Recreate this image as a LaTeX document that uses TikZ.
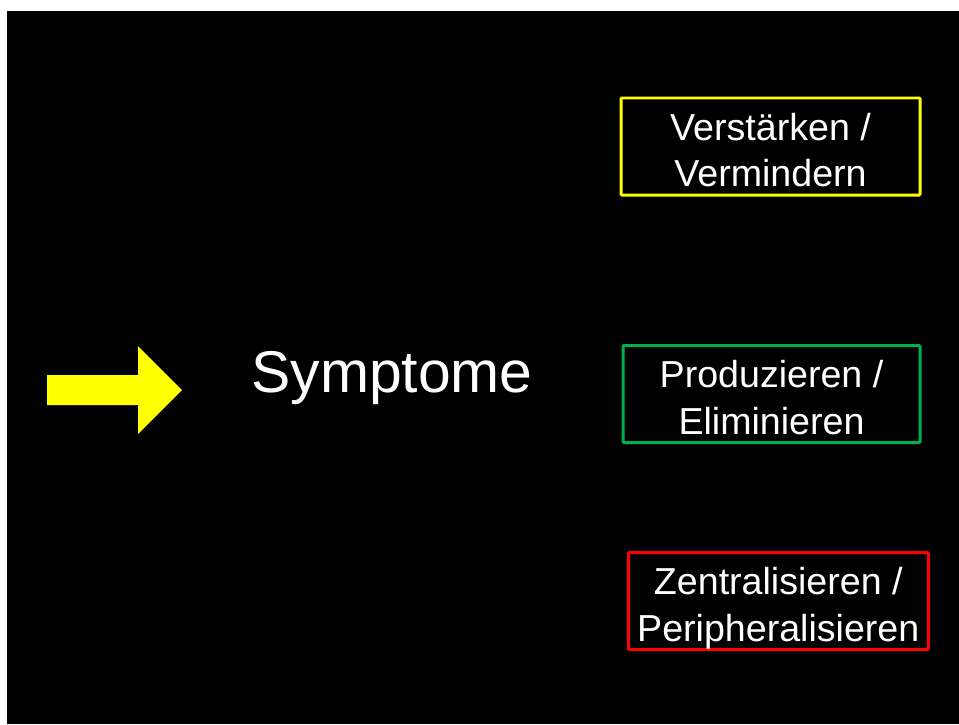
\documentclass[tikz,border=0pt]{standalone}
\usepackage{fontspec}
\setmainfont{Liberation Sans}
\usetikzlibrary{calc,backgrounds}
\newcommand{\boxfont}{\fontsize{21.4}{26.5}\selectfont}
\newcommand{\titlefont}{\fontsize{33.5}{40}\selectfont}
\definecolor{gelb}{RGB}{255,255,0}
\definecolor{gruen}{RGB}{0,176,80}
\definecolor{rot}{RGB}{255,0,0}

\begin{document}
\begin{tikzpicture}[x=0.02cm,y=-0.02cm]

    %
    % Définitions
    %
    \pgfmathsetmacro{\bh}{97};%

    %
    % Styles
    %
    \tikzset{kasten/.style={draw,line width=1.7pt,rounded corners=0.6pt,%
        text=white,align=center,inner sep=0pt,font=\boxfont,%
        text height=45.8pt,text depth=0pt}};%
    \tikzset{pfeil/.style={fill=gelb,draw=none}};%

    %
    % Fond
    %
    \useasboundingbox (0,0) rectangle (959,724);%
    \fill[white] (0,0) rectangle (959,724);%
    \fill[black] (7,11) rectangle (959,724);%

    %
    % Coordonnées
    %
    % Flèche
    \coordinate (pa) at (47,375);%
    \coordinate (pb) at (138,375);%
    \coordinate (pc) at (138,346);%
    \coordinate (pd) at (182,390);%
    \coordinate (pe) at (138,434);%
    \coordinate (pf) at (138,405);%
    \coordinate (pg) at (47,405);%

    %
    % Dessin
    %
    \fill[pfeil] (pa) -- (pb) -- (pc) -- (pd) -- (pe) -- (pf) -- (pg) -- cycle;%

    % Titre
    \node[text=white,font=\titlefont] (sym) at (392,378) {Symptome};%

    % Cadres
    \node[kasten,draw=gelb,minimum width=299*0.02cm,minimum height=\bh*0.02cm]
    (verst) at (770.5,146.5) {Verstärken /\\Vermindern};%
    \node[kasten,draw=gruen,minimum width=297*0.02cm,minimum height=\bh*0.02cm]
    (prod) at (771.5,394) {Produzieren /\\Eliminieren};%
    \node[kasten,draw=rot,minimum width=300*0.02cm,minimum height=\bh*0.02cm]
    (zent) at (778.3,601) {Zentralisieren /\\Peripheralisieren};%

\end{tikzpicture}
\end{document}
